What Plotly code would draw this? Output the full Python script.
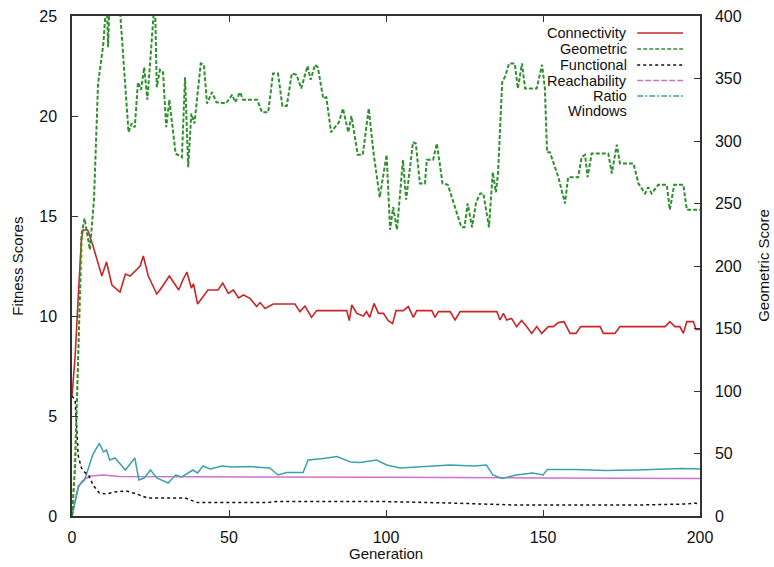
import plotly.graph_objects as go

# ---------------- data ----------------
conn_gen = [0, 1, 2, 3, 3.5, 5, 6.7, 9.5, 11, 12.7, 15.3, 17, 18.5, 21.7, 22.7, 24.3, 27, 28, 31, 34, 35.3,
            36.6, 38, 38.7, 40, 42, 43.3, 46.5, 48, 49.8, 51.4, 53, 54.6, 56.7, 58.8, 59.9, 61.5, 64.1, 71,
            72.6, 74.2, 76.3, 77.9, 87.5, 88.3, 89.1, 90.7, 92.8, 93.8, 94.8, 96.2, 97.6, 99.2, 100.7, 102.1,
            103.2, 105.5, 107.1, 108.7, 109.8, 114.6, 115.6, 116.7, 120.4, 122, 123.6, 135.3, 136.3, 137.4,
            138.4, 140, 141.6, 143.2, 144.8, 146.4, 148, 149.6, 151.7, 153.3, 154.9, 156.7, 158.6, 160.5,
            162, 168.2, 169.2, 172.9, 174.5, 188.9, 190.4, 192, 193.6, 194.7, 195.8, 197.9, 198.7, 200]
conn_val = [6.0, 8.0, 11.0, 13.8, 14.3, 14.3, 13.5, 12.0, 12.7, 11.55, 11.2, 12.1, 12.0, 12.5, 13.0, 12.0, 11.1,
            11.3, 12.0, 11.3, 11.8, 12.2, 11.4, 11.6, 10.6, 11.05, 11.3, 11.3, 11.65, 11.13, 11.3, 10.9, 11.05,
            10.88, 10.47, 10.67, 10.38, 10.6, 10.6, 10.22, 10.5, 9.93, 10.27, 10.27, 9.77, 10.55, 10.13, 10.0,
            10.22, 9.93, 10.63, 10.13, 10.13, 9.77, 9.63, 10.27, 10.27, 10.47, 9.93, 10.27, 10.27, 9.93, 10.22,
            10.22, 9.8, 10.22, 10.22, 9.8, 10.13, 9.8, 9.88, 9.47, 9.77, 9.47, 9.13, 9.47, 9.13, 9.47, 9.47,
            9.67, 9.72, 9.13, 9.13, 9.47, 9.47, 9.13, 9.13, 9.47, 9.47, 9.72, 9.47, 9.47, 9.13, 9.72, 9.72,
            9.33, 9.33]

geo_gen = [0, 1, 2, 3, 4, 5.7, 7, 8.3, 10, 11, 11.5, 12, 15, 18, 19, 20, 21, 22, 23, 24, 26.4, 27, 28, 29, 30,
           31, 33, 35, 36, 37, 38, 39, 41, 42, 43, 44.6, 46, 49, 51, 52, 53.5, 54.5, 59, 60.5, 62.5, 64, 65.6,
           67, 68.4, 70, 71.5, 73, 75, 76, 77.4, 78.3, 80, 81, 82.5, 85, 86.3, 88, 89, 91, 92.6, 94.5, 96, 98,
           100.2, 101.3, 102.3, 103.5, 105.4, 106.4, 108.6, 109.5, 110.8, 112.4, 113, 115, 116.2, 118, 119.7,
           122, 124, 125, 126, 127.4, 128.7, 130, 131, 132.8, 134, 135, 135.7, 137, 138, 139.2, 141, 142,
           143.3, 144.3, 148, 149.7, 150.6, 151.3, 152.2, 154.9, 157, 158, 161.2, 162.3, 163.4, 164.2, 165.5,
           170.8, 171.9, 173.5, 174.5, 178.8, 180.4, 182.5, 183.5, 184.6, 186.7, 189.4, 190.4, 191.8, 194.7,
           195.8, 199.5, 200]
geo_val = [0, 40, 130, 225, 238, 213, 253, 346, 378, 415, 375, 415, 415, 307, 314, 311, 347, 341, 359, 333, 415,
           343, 357, 355, 311, 333, 290, 287, 351, 279, 322, 314, 362, 361, 330, 339, 331, 330, 337, 331, 339,
           333, 333, 323, 323, 354, 354, 328, 328, 354, 353, 342, 360, 349, 361, 359, 334, 335, 307, 315, 326,
           307, 320, 289, 289, 326, 291, 255, 289, 229, 247, 229, 285, 253, 299, 298, 266, 266, 285, 285, 298,
           266, 265, 247, 231, 231, 250, 231, 251, 258, 258, 231, 275, 259, 275, 347, 352, 362, 362, 342, 362,
           342, 342, 361, 342, 291, 291, 271, 250, 271, 271, 287, 289, 271, 290, 290, 274, 297, 282, 282, 266,
           258, 263, 258, 265, 265, 245, 265, 265, 245, 245, 245]

func_gen = [0, 1, 2, 3, 4, 5.4, 6.7, 8.7, 11, 13.4, 17.3, 20.6, 24, 30, 36, 40, 62, 65, 100, 120, 141, 160, 180,
            196, 198, 200]
func_val = [6.0, 5.8, 3.0, 2.4, 2.2, 2.0, 1.55, 1.15, 1.1, 1.2, 1.25, 1.1, 0.9, 0.9, 0.9, 0.67, 0.67, 0.72, 0.72,
            0.65, 0.55, 0.55, 0.55, 0.6, 0.65, 0.6]

reach_gen = [0, 1, 2, 3, 4, 6, 10, 15, 30, 60, 100, 150, 200]
reach_val = [0, 0.7, 1.4, 1.7, 1.85, 2.0, 2.05, 1.97, 1.97, 1.96, 1.94, 1.9, 1.88]

ratio_gen = [0, 1, 2, 4, 6.7, 8.7, 10, 11, 12, 13.7, 17, 20, 21.3, 23, 25, 27, 30.6, 33, 35, 38.5, 40, 41.7, 44,
             47.8, 51, 56.7, 63, 65.6, 68.4, 73.6, 75.2, 80, 84.4, 88.7, 91.7, 97, 100.2, 104.5, 110, 120.4, 128,
             132, 134, 137, 141.5, 146.7, 150, 151.4, 160, 170, 180, 190, 194, 200]
ratio_val = [0, 0.8, 1.5, 1.8, 3.1, 3.63, 3.2, 3.3, 2.8, 2.9, 2.3, 2.9, 1.8, 1.9, 2.3, 1.9, 1.65, 2.05, 1.95,
             2.3, 2.15, 2.5, 2.35, 2.5, 2.45, 2.47, 2.4, 2.05, 2.17, 2.17, 2.8, 2.88, 2.97, 2.7, 2.67, 2.8, 2.55,
             2.4, 2.45, 2.55, 2.5, 2.55, 2.05, 1.88, 2.05, 2.15, 2.05, 2.33, 2.33, 2.27, 2.3, 2.35, 2.38, 2.35]

win_gen = [0, 1, 2, 3, 3.5]
win_val = [0, 4, 8, 12.5, 14]

legend_names = ["Connectivity", "Geometric", "Functional", "Reachability", "Ratio", "Windows"]

# ---------------- styles ----------------
C_CONN = "#c8262a"
C_GEO = "#2f8f2f"
C_FUNC = "#111111"
C_REACH = "#d070d0"
C_RATIO = "#3aa3aa"
C_WIN = "#e6d860"

FONT = "Liberation Sans, Arial, sans-serif"

fig = go.Figure()
fig.add_trace(go.Scatter(x=win_gen, y=win_val, mode="lines", name=legend_names[5],
                         line=dict(color=C_WIN, width=1.5, dash="dot")))
fig.add_trace(go.Scatter(x=reach_gen, y=reach_val, mode="lines", name=legend_names[3],
                         line=dict(color=C_REACH, width=1.5)))
fig.add_trace(go.Scatter(x=ratio_gen, y=ratio_val, mode="lines", name=legend_names[4],
                         line=dict(color=C_RATIO, width=1.5)))
fig.add_trace(go.Scatter(x=func_gen, y=func_val, mode="lines", name=legend_names[2],
                         line=dict(color=C_FUNC, width=1.5, dash="dot")))
fig.add_trace(go.Scatter(x=conn_gen, y=conn_val, mode="lines", name=legend_names[0],
                         line=dict(color=C_CONN, width=1.6)))
fig.add_trace(go.Scatter(x=geo_gen, y=geo_val, mode="lines", name=legend_names[1], yaxis="y2",
                         line=dict(color=C_GEO, width=2, dash="4px,2px")))

# custom legend: text right-aligned, sample line to the right (gnuplot style)
leg_styles = [(C_CONN, "solid"), (C_GEO, "4px,2px"), (C_FUNC, "dot"), (C_REACH, "6px,2px"),
              (C_RATIO, "6px,2px,2px,2px"), (None, None)]
annotations = []
shapes = []
row_y = [0.966, 0.934, 0.902, 0.871, 0.840, 0.810]
for name, (col, dash), ry in zip(legend_names, leg_styles, row_y):
    annotations.append(dict(xref="paper", yref="paper", x=0.886, y=ry, text=name, showarrow=False,
                            xanchor="right", yanchor="middle", borderpad=0,
                            font=dict(family=FONT, size=14.5, color="#111")))
    if col:
        shapes.append(dict(type="line", xref="paper", yref="paper", x0=0.900, x1=0.973, y0=ry, y1=ry,
                           line=dict(color=col, width=1.5, dash=dash)))

annotations += [
    dict(xref="paper", yref="paper", x=0.5, y=-0.074, text="Generation", showarrow=False,
         xanchor="center", yanchor="middle", font=dict(family=FONT, size=15, color="#111")),
    dict(xref="paper", yref="paper", x=-0.088, y=0.50, text="Fitness Scores", showarrow=False,
         textangle=-90, xanchor="center", yanchor="middle", font=dict(family=FONT, size=15, color="#111")),
    dict(xref="paper", yref="paper", x=1.1, y=0.502, text="Geometric Score", showarrow=False,
         textangle=-90, xanchor="center", yanchor="middle", font=dict(family=FONT, size=15, color="#111")),
]

axis_common = dict(showgrid=False, zeroline=False, showline=True, linecolor="#333", linewidth=1.5,
                   ticks="inside", ticklen=6, tickwidth=1.2, tickcolor="#333",
                   tickfont=dict(family=FONT, size=16, color="#111"))

fig.update_layout(
    width=774, height=567,
    margin=dict(l=72, r=74, t=16, b=51, autoexpand=False),
    paper_bgcolor="white", plot_bgcolor="white",
    showlegend=False,
    xaxis=dict(range=[0, 200], tickvals=[0, 50, 100, 150, 200], mirror="ticks", ticklabelstandoff=6,
               **axis_common),
    yaxis=dict(range=[0, 25], tickvals=[0, 5, 10, 15, 20, 25], mirror=False, ticklabelstandoff=10,
               **axis_common),
    yaxis2=dict(range=[0, 400], tickvals=[0, 50, 100, 150, 200, 250, 300, 350, 400], overlaying="y",
                side="right", ticklabelstandoff=10, **axis_common),
    annotations=annotations,
    shapes=shapes,
)

fig.write_html("out.html")
